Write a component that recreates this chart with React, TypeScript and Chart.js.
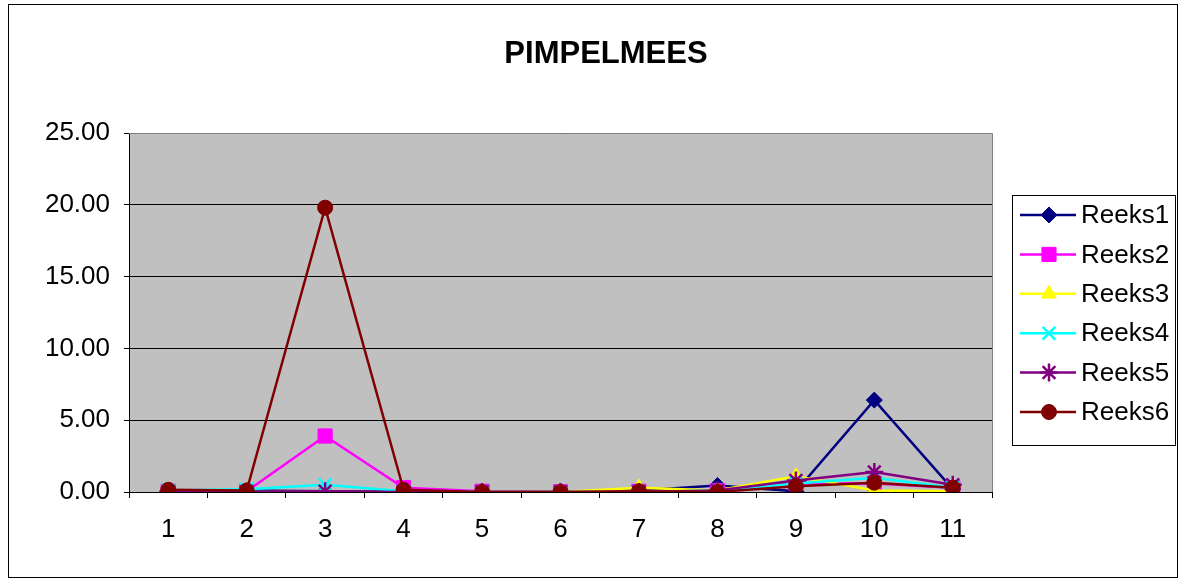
import React, { useEffect, useRef } from "react";
import { Chart, registerables } from "chart.js";
import { drawPoint } from "chart.js/helpers";

Chart.register(...registerables);

const title = "PIMPELMEES";
const categories = ["1", "2", "3", "4", "5", "6", "7", "8", "9", "10", "11"];
const seriesNames = ["Reeks1", "Reeks2", "Reeks3", "Reeks4", "Reeks5", "Reeks6"];
const reeks1 = [0.1, 0.1, 0.05, 0.05, 0, 0, 0.1, 0.45, 0.05, 6.4, 0.2];
const reeks2 = [0.05, 0.05, 3.9, 0.3, 0.05, 0.02, 0.05, 0.1, 0.6, 0.6, 0.3];
const reeks3 = [0, 0, 0, 0, 0, 0, 0.3, 0.1, 1.1, 0.1, 0.05];
const reeks4 = [0.1, 0.2, 0.5, 0.05, 0, 0, 0, 0.1, 0.6, 1.0, 0.3];
const reeks5 = [0, 0, 0.05, 0, 0, 0, 0, 0.1, 0.8, 1.4, 0.5];
const reeks6 = [0.15, 0.1, 19.8, 0.15, 0, 0, 0.05, 0, 0.4, 0.65, 0.3];
const colors = ["#000080", "#FF00FF", "#FFFF00", "#00FFFF", "#800080", "#800000"];
const pointStyles = ["rectRot", "rect", "triangle", "crossRot", "star", "circle"];
const pointRadii = [8, 10, 8.5, 9, 9, 7.5];

const FONT = "Arial, 'Liberation Sans', sans-serif";

export default function App() {
  const ref = useRef<HTMLCanvasElement>(null);
  useEffect(() => {
    const values = [reeks1, reeks2, reeks3, reeks4, reeks5, reeks6];
    const datasets = values.map((v, i) => ({
      label: seriesNames[i],
      data: v,
      borderColor: colors[i],
      backgroundColor: colors[i],
      pointBackgroundColor: colors[i],
      pointBorderColor: colors[i],
      pointStyle: pointStyles[i] as any,
      pointRadius: pointRadii[i],
      pointBorderWidth: i === 3 || i === 4 ? 2.5 : 1,
      borderWidth: 2.5,
      tension: 0,
      order: 5 - i,
    }));

    const decor = {
      id: "decor",
      beforeDraw(chart: any) {
        const { ctx, chartArea } = chart;
        ctx.save();
        ctx.fillStyle = "#ffffff";
        ctx.fillRect(0, 0, chart.width, chart.height);
        ctx.strokeStyle = "#000000";
        ctx.lineWidth = 1;
        ctx.strokeRect(8.5, 4.5, 1169, 573);
        ctx.fillStyle = "#C0C0C0";
        ctx.fillRect(chartArea.left, chartArea.top, chartArea.right - chartArea.left, chartArea.bottom - chartArea.top);
        ctx.restore();
      },
      afterDraw(chart: any) {
        const { ctx, chartArea } = chart;
        ctx.save();
        ctx.strokeStyle = "#808080";
        ctx.lineWidth = 1;
        ctx.beginPath();
        ctx.moveTo(chartArea.left, chartArea.top + 0.5);
        ctx.lineTo(chartArea.right + 0.5, chartArea.top + 0.5);
        ctx.lineTo(chartArea.right + 0.5, chartArea.bottom);
        ctx.stroke();
        // title
        ctx.fillStyle = "#000";
        ctx.font = `bold 31px ${FONT}`;
        ctx.textAlign = "center";
        ctx.textBaseline = "middle";
        ctx.fillText(title, 606, 54);
        // legend
        const lx = 1012, ly = 195, lw = 163, lh = 250;
        ctx.strokeStyle = "#000";
        ctx.lineWidth = 1;
        ctx.strokeRect(lx + 0.5, ly + 0.5, lw, lh);
        ctx.font = `26px ${FONT}`;
        ctx.textAlign = "left";
        chart.data.datasets.forEach((ds: any, i: number) => {
          const y = 215 + i * 39.4;
          ctx.strokeStyle = ds.borderColor;
          ctx.lineWidth = 2.5;
          ctx.beginPath();
          ctx.moveTo(1020, y);
          ctx.lineTo(1076, y);
          ctx.stroke();
          ctx.fillStyle = ds.borderColor;
          ctx.strokeStyle = ds.borderColor;
          ctx.lineWidth = ds.pointBorderWidth;
          drawPoint(ctx, { pointStyle: ds.pointStyle, radius: ds.pointRadius, borderWidth: ds.pointBorderWidth, rotation: 0 } as any, 1049, y);
          ctx.fillStyle = "#000";
          ctx.fillText(ds.label, 1081, y + 1);
        });
        ctx.restore();
      },
    };

    const chart = new Chart(ref.current!, {
      type: "line",
      data: { labels: categories, datasets },
      plugins: [decor],
      options: {
        animation: false,
        responsive: false,
        maintainAspectRatio: false,
        layout: { padding: { left: 0, top: 133, right: 193, bottom: 0 } },
        plugins: { legend: { display: false }, title: { display: false }, tooltip: { enabled: false } },
        scales: {
          x: {
            offset: true,
            grid: { display: true, offset: true, drawOnChartArea: false, drawTicks: true, tickLength: 6, color: "#000" },
            border: { color: "#000", width: 1 },
            ticks: { color: "#000", font: { family: FONT, size: 26 }, padding: 16, maxRotation: 0, autoSkip: false },
            afterFit(scale: any) { scale.height = 89; },
          },
          y: {
            min: 0,
            max: 25,
            ticks: { stepSize: 5, color: "#000", font: { family: FONT, size: 26 }, padding: 14, callback: (v: any) => Number(v).toFixed(2) },
            grid: { color: "#000", tickLength: 5, lineWidth: 1 },
            border: { color: "#000", width: 1 },
            afterFit(scale: any) { scale.width = 129; },
          },
        },
      },
    } as any);
    return () => chart.destroy();
  }, []);
  return (
    <div style={{ position: "fixed", left: 0, top: 0, width: 1185, height: 581 }}>
      <canvas ref={ref} width={1185} height={581} style={{ display: "block" }} />
    </div>
  );
}
